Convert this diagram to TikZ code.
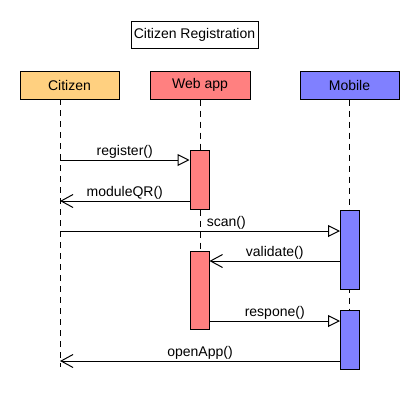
\documentclass[tikz,border=0pt]{standalone}
\usepackage{fontspec}
\setmainfont{Liberation Sans}
\usetikzlibrary{arrows.meta}
\definecolor{citfill}{RGB}{255,208,128}
\definecolor{webfill}{RGB}{255,128,128}
\definecolor{mobfill}{RGB}{128,128,255}
\begin{document}
\begin{tikzpicture}[x=1pt,y=-1pt,
  font=\fontsize{14}{16}\selectfont,
  box/.style={draw=black, line width=1pt, minimum height=28pt, inner sep=0pt},
  act/.style={draw=black, line width=1pt, minimum width=19pt, inner sep=0pt},
  life/.style={line width=1pt, dash pattern=on 6pt off 5pt},
  msg/.style={line width=1pt},
  call/.style={msg, -{Triangle[open, length=12pt, width=12pt, fill=white]}},
  ret/.style={msg, -{Straight Barb[length=12pt, width=13pt]}},
  lbl/.style={inner sep=0pt, yshift=8pt}]
\useasboundingbox (0,0) rectangle (420,410);
\fill[white] (0,0) rectangle (420,410);
% title and headers
\node[box, minimum width=127pt, minimum height=27pt] (title) at (194.5,34.5) {Citizen Registration};
\node[box, fill=citfill, minimum width=99pt] (cit) at (69.5,85) {Citizen};
\node[box, fill=webfill, minimum width=100pt] (web) at (200,85) {Web app};
\node[box, fill=mobfill, minimum width=99pt] (mob) at (349.5,85) {Mobile};
% lifelines
\coordinate (citTop) at (60,99);
\coordinate (citEnd) at (60,367);
\coordinate (webEnd) at (200,329);
\coordinate (mobEnd) at (349.5,369);
\draw[life] (citTop) -- (citEnd);
\draw[life] (web.south) -- (webEnd);
\draw[life] (mob.south) -- (mobEnd);
% activations
\node[act, fill=webfill, minimum height=59pt] (w1) at (199.5,179.5) {};
\node[act, fill=mobfill, minimum height=79pt] (m1) at (350,249.5) {};
\node[act, fill=webfill, minimum height=78pt] (w2) at (199.5,290) {};
\node[act, fill=mobfill, minimum height=59pt] (m2) at (350,339.5) {};
% messages
\coordinate (c1) at (60,160);
\coordinate (c2) at (60,201);
\coordinate (c3) at (60,231);
\coordinate (c4) at (350,261);
\coordinate (c5) at (350,321);
\coordinate (c6) at (60,361);
\draw[call] (c1) -- (c1 -| w1.west) node[midway,lbl] {register()};
\draw[ret] (c2 -| w1.west) -- (c2) node[midway,lbl] {moduleQR()};
\draw[call] (c3) -- (c3 -| m1.west) node[pos=0.594,lbl] {scan()};
\draw[ret] (c4 -| m1.west) -- (c4 -| w2.east) node[midway,lbl] {validate()};
\draw[call] (c5 -| w2.east) -- (c5 -| m2.west) node[midway,lbl] {respone()};
\draw[ret] (c6 -| m2.west) -- (c6) node[midway,lbl] {openApp()};
\end{tikzpicture}
\end{document}
